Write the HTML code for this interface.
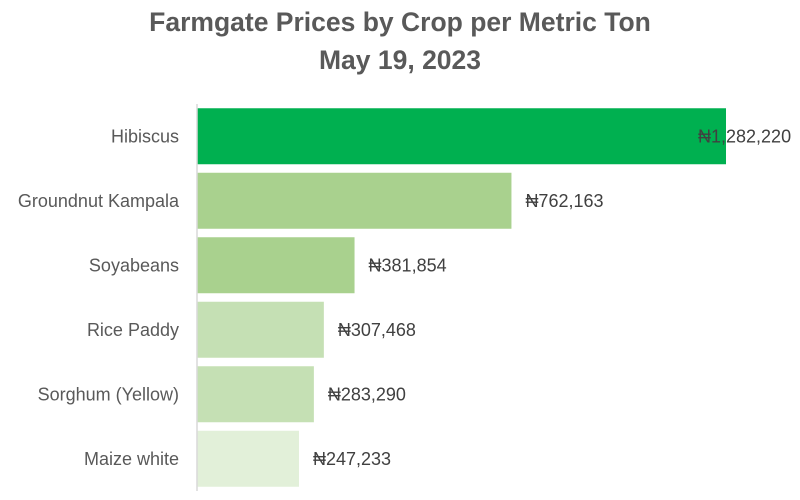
<!DOCTYPE html>
<html><head><meta charset="utf-8"><style>
body{margin:0;background:#fff;}
svg{display:block;font-family:"Liberation Sans","DejaVu Sans",sans-serif;}
</style></head><body>
<svg id="chart" width="800" height="500" viewBox="0 0 800 500">
<rect x="0" y="0" width="800" height="500" fill="#fff"/>
<text x="400" y="31" text-anchor="middle" font-size="26.5" font-weight="bold" fill="#595959">Farmgate Prices by Crop per Metric Ton</text>
<text x="400" y="69" text-anchor="middle" font-size="26.5" font-weight="bold" fill="#595959">May 19, 2023</text>
<g id="bars"></g>
<line x1="197" y1="104" x2="197" y2="491" stroke="#d9d9d9" stroke-width="1.5"/>
</svg>
<script>
const categories = ["Hibiscus","Groundnut Kampala","Soyabeans","Rice Paddy","Sorghum (Yellow)","Maize white"];
const values = [1282220,762163,381854,307468,283290,247233];
const labels = ["₦1,282,220","₦762,163","₦381,854","₦307,468","₦283,290","₦247,233"];
const colors = ["#00b050","#a9d18e","#a9d18e","#c5e0b4","#c5e0b4","#e2f0d9"];
const x0 = 197, xMax = 1282220, pxMax = 529;
const xs = v => x0 + v / xMax * pxMax;
const top0 = 104, band = 64.5, barH = 56;
const ys = i => top0 + i * band + (band - barH) / 2;
const g = document.getElementById('bars');
const NS = 'http://www.w3.org/2000/svg';
categories.forEach((c, i) => {
  const y = ys(i);
  const r = document.createElementNS(NS, 'rect');
  r.setAttribute('x', x0); r.setAttribute('y', y);
  r.setAttribute('width', xs(values[i]) - x0); r.setAttribute('height', barH);
  r.setAttribute('fill', colors[i]);
  
  
  g.appendChild(r);
  const t = document.createElementNS(NS, 'text');
  t.setAttribute('x', 179); t.setAttribute('y', y + barH / 2 + 6);
  t.setAttribute('text-anchor', 'end'); t.setAttribute('font-size', '18'); t.setAttribute('fill', '#595959');
  t.textContent = c;
  
  
  g.appendChild(t);
  const v = document.createElementNS(NS, 'text');
  v.setAttribute('x', xs(values[i]) + 14 - (i === 0 ? 42 : 0)); v.setAttribute('y', y + barH / 2 + 6);
  v.setAttribute('font-size', '18'); v.setAttribute('fill', '#404040');
  v.textContent = labels[i];
  
  
  g.appendChild(v);
});
</script>
</body></html>
